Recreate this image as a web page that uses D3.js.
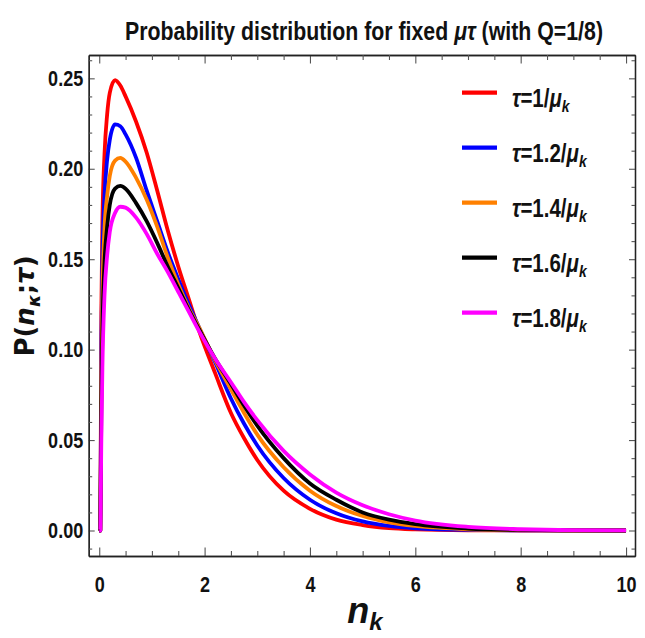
<!DOCTYPE html>
<html><head><meta charset="utf-8">
<script src="https://cdn.jsdelivr.net/npm/d3@7"></script>
<style>body{margin:0;background:#fff}</style>
</head><body>
<svg id="chart" width="645" height="638"></svg>
<script>
// ---- data ----
const nValues   = [0, 0.02, 0.04, 0.06, 0.1, 0.15, 0.2, 0.3, 0.4, 0.5, 0.7, 0.9, 1.1, 1.3, 1.5, 1.7, 1.9, 2.2, 2.5, 2.75, 3.0, 3.5, 4.0, 4.5, 5.0, 5.5, 6.0, 7.0, 8.0, 9.0, 10.0];
const pTau1_0   = [0, 0, 0.12, 0.17, 0.208, 0.23, 0.242, 0.249, 0.246, 0.240, 0.226, 0.209, 0.188, 0.166, 0.146, 0.128, 0.110, 0.087, 0.065, 0.051, 0.039, 0.022, 0.012, 0.006, 0.003, 0.0013, 0.0006, 0.0001, 0, 0, 0];
const pTau1_2   = [0, 0, 0.10, 0.15, 0.185, 0.205, 0.216, 0.2245, 0.2235, 0.219, 0.206, 0.188, 0.171, 0.154, 0.139, 0.125, 0.112, 0.093, 0.073, 0.059, 0.047, 0.029, 0.017, 0.0095, 0.005, 0.0025, 0.0012, 0.0003, 0.0001, 0, 0];
const pTau1_4   = [0, 0, 0.085, 0.13, 0.167, 0.185, 0.196, 0.2045, 0.206, 0.204, 0.195, 0.183, 0.168, 0.151, 0.136, 0.123, 0.112, 0.094, 0.078, 0.065, 0.053, 0.035, 0.022, 0.0135, 0.008, 0.0045, 0.0025, 0.0007, 0.0002, 0, 0];
const pTau1_6   = [0, 0, 0.07, 0.11, 0.148, 0.168, 0.18, 0.189, 0.1905, 0.189, 0.181, 0.171, 0.159, 0.146, 0.134, 0.122, 0.111, 0.095, 0.081, 0.069, 0.058, 0.040, 0.026, 0.017, 0.010, 0.006, 0.0035, 0.0011, 0.0003, 0.0001, 0];
const pTau1_8   = [0, 0, 0.05, 0.09, 0.13, 0.152, 0.165, 0.1755, 0.179, 0.1785, 0.173, 0.164, 0.153, 0.143, 0.132, 0.121, 0.110, 0.095, 0.082, 0.071, 0.061, 0.044, 0.031, 0.021, 0.014, 0.009, 0.0055, 0.002, 0.0007, 0.0002, 0.0001];
const tauLabels = ["1", "1.2", "1.4", "1.6", "1.8"];
const seriesColors = ["#ff0000", "#0000ff", "#ff8000", "#000000", "#ff00ff"];
const xMajorTicks = [0, 2, 4, 6, 8, 10];
const yMajorTicks = [0, 0.05, 0.10, 0.15, 0.20, 0.25];
const titleMain = "Probability distribution for fixed ";
const titleItalic = "μτ";
const titleEnd = " (with Q=1/8)";

const series = [pTau1_0, pTau1_2, pTau1_4, pTau1_6, pTau1_8].map((vals, i) => ({
  tau: tauLabels[i], color: seriesColors[i],
  points: nValues.map((n, j) => [n, vals[j]])
}));

// ---- layout ----
const L = 88.7, R = 635, T = 55, B = 556;
const SX = 0.82; // narrow (condensed) horizontal scale
const svg = d3.select("#chart");
const x = d3.scaleLinear().domain([-0.2, 10.17]).range([L, R]);
const y = d3.scaleLinear().domain([-0.0141, 0.2629]).range([B, T]);

const sans = "'Liberation Sans',Arial,sans-serif";
const xMinor = d3.range(0, 10.01, 0.5).filter(v => !xMajorTicks.includes(v));
const yMinor = d3.range(-0.01, 0.2601, 0.01).map(v => +v.toFixed(2)).filter(v => !yMajorTicks.some(m => Math.abs(m - v) < 1e-6));

function styleAxis(g) {
  g.select(".domain").attr("stroke", "#222").attr("stroke-width", 1.3);
  g.selectAll(".tick line").attr("stroke", "#555").attr("stroke-width", 1.1);
  g.selectAll(".tick text").attr("font-family", sans).attr("font-weight", "bold").attr("font-size", 22).attr("fill", "#111");
}

// bottom
svg.append("g").attr("transform", `translate(0,${B})`)
  .call(d3.axisBottom(x).tickValues(xMajorTicks).tickSize(-8.5).tickSizeOuter(0).tickPadding(20).tickFormat(d3.format("d")))
  .call(styleAxis)
  .call(g => g.selectAll(".tick text").attr("transform", `scale(${SX},1)`));
svg.append("g").attr("transform", `translate(0,${B})`)
  .call(d3.axisBottom(x).tickValues(xMinor).tickSize(-5).tickSizeOuter(0).tickFormat(""))
  .call(styleAxis);
// top
svg.append("g").attr("transform", `translate(0,${T})`)
  .call(d3.axisTop(x).tickValues(xMajorTicks).tickSize(-8.5).tickSizeOuter(0).tickFormat(""))
  .call(styleAxis);
svg.append("g").attr("transform", `translate(0,${T})`)
  .call(d3.axisTop(x).tickValues(xMinor).tickSize(-5).tickSizeOuter(0).tickFormat(""))
  .call(styleAxis);
// left
svg.append("g").attr("transform", `translate(${L},0)`)
  .call(d3.axisLeft(y).tickValues(yMajorTicks).tickSize(-6).tickSizeOuter(0).tickPadding(5.5).tickFormat(d3.format(".2f")))
  .call(styleAxis)
  .call(g => g.selectAll(".tick text").attr("x", -5.5 / SX).attr("transform", `scale(${SX},1)`));
svg.append("g").attr("transform", `translate(${L},0)`)
  .call(d3.axisLeft(y).tickValues(yMinor).tickSize(-3.5).tickSizeOuter(0).tickFormat(""))
  .call(styleAxis);
// right
svg.append("g").attr("transform", `translate(${R},0)`)
  .call(d3.axisRight(y).tickValues(yMajorTicks).tickSize(-6).tickSizeOuter(0).tickFormat(""))
  .call(styleAxis);
svg.append("g").attr("transform", `translate(${R},0)`)
  .call(d3.axisRight(y).tickValues(yMinor).tickSize(-3.5).tickSizeOuter(0).tickFormat(""))
  .call(styleAxis);

// curves
const line = d3.line().x(d => x(d[0])).y(d => y(d[1])).curve(d3.curveMonotoneX);
svg.append("g")
  .selectAll("path").data(series).join("path")
  .attr("d", d => line(d.points))
  .attr("fill", "none").attr("stroke", d => d.color)
  .attr("stroke-width", 3.8).attr("stroke-linejoin", "round").attr("stroke-linecap", "butt");

// legend
const lg = svg.append("g");
series.forEach((s, i) => {
  const yy = 92.7 + i * 55;
  lg.append("line").attr("x1", 462).attr("x2", 497).attr("y1", yy).attr("y2", yy)
    .attr("stroke", s.color).attr("stroke-width", 4.2);
  const t = lg.append("text").attr("transform", `translate(512,${yy + 14}) scale(${SX},1)`)
    .attr("font-family", sans).attr("font-weight", "bold").attr("font-size", 25).attr("fill", "#111");
  t.append("tspan").attr("font-style", "italic").text("τ");
  t.append("tspan").text("=" + s.tau + "/");
  t.append("tspan").attr("font-style", "italic").text("μ");
  t.append("tspan").attr("font-style", "italic").attr("font-size", 17).attr("dy", 5).text("k");
});

// title
const title = svg.append("text").attr("transform", `translate(364,40) scale(${SX},1)`).attr("text-anchor", "middle")
  .attr("font-family", sans).attr("font-weight", "bold").attr("font-size", 26).attr("fill", "#111");
title.append("tspan").text(titleMain);
title.append("tspan").attr("font-style", "italic").text(titleItalic);
title.append("tspan").text(titleEnd);

// y label
const yl = svg.append("text").attr("transform", "translate(34,306) rotate(-90)").attr("text-anchor", "middle")
  .attr("font-family", "'DejaVu Sans',sans-serif").attr("font-weight", "bold").attr("font-size", 26).attr("fill", "#111");
yl.append("tspan").text("P(");
yl.append("tspan").attr("font-style", "italic").text("n");
yl.append("tspan").attr("font-style", "italic").attr("font-size", 18).attr("dy", 6).text("κ");
yl.append("tspan").attr("dy", -6).text(";");
yl.append("tspan").attr("font-style", "italic").text("τ");
yl.append("tspan").text(")");

// x label
const xl = svg.append("text").attr("x", (L + R) / 2 + 3).attr("y", 623).attr("text-anchor", "middle")
  .attr("font-family", sans).attr("font-weight", "bold").attr("font-size", 36)
  .attr("font-style", "italic").attr("fill", "#111");
xl.append("tspan").text("n");
xl.append("tspan").attr("font-size", 24).attr("dy", 7).text("k");
</script>
</body></html>
